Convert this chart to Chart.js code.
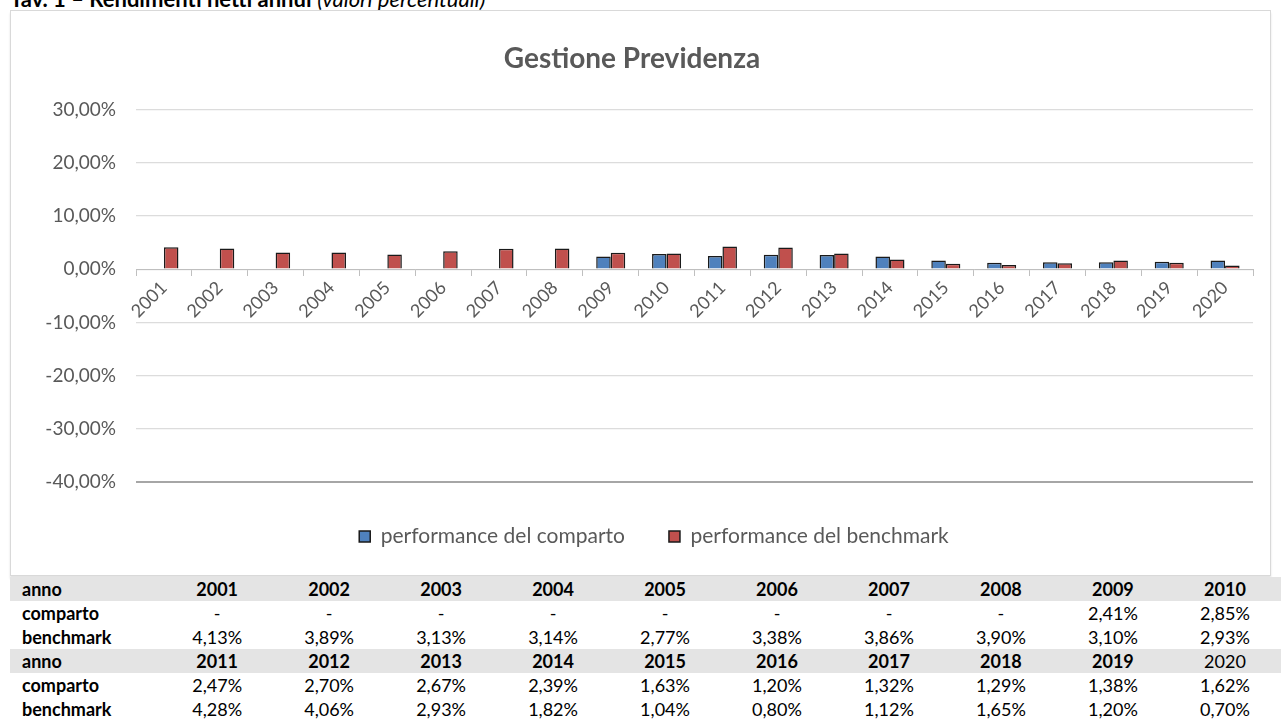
<!DOCTYPE html>
<html>
<head>
<meta charset="utf-8">
<script src="https://cdn.jsdelivr.net/npm/chart.js@4/dist/chart.umd.min.js"></script>
<style>
  body { margin: 0; width: 1281px; height: 727px; overflow: hidden; background: #fff; font-family: Lato, "Open Sans", sans-serif; position: relative; }
  #tav { position: absolute; left: 10px; top: -15px; font-size: 22px; color: #000; white-space: nowrap; }
  #tav b { font-weight: bold; }
  #tav i { font-style: italic; }
  #box { position: absolute; left: 10px; top: 10px; width: 1261px; height: 566px; border: 1px solid #d9d9d9; box-sizing: border-box; box-shadow: 0 3px 2px #e3e3e3; }
  #tab { position: absolute; left: 10px; top: 577px; border-collapse: collapse; font-size: 18px; color: #000; table-layout: fixed; }
  #tab td { height: 24px; padding: 0; text-align: center; white-space: nowrap; }
  #tab td.lab { text-align: left; padding-left: 12px; font-weight: bold; }
  #tab tr.head td { background: #e4e4e4; font-weight: bold; }
</style>
</head>
<body>
<div id="tav"><b>Tav. 1 – Rendimenti netti annui</b> <i>(valori percentuali)</i></div>
<div id="box"><canvas id="chart" width="1259" height="564"></canvas></div>
<table id="tab"></table>
<script>
const anni = ["2001", "2002", "2003", "2004", "2005", "2006", "2007", "2008", "2009", "2010",
  "2011", "2012", "2013", "2014", "2015", "2016", "2017", "2018", "2019", "2020"];
// valori percentuali, null = comparto non ancora attivo
const comparto = [null, null, null, null, null, null, null, null, 2.41, 2.85,
  2.47, 2.70, 2.67, 2.39, 1.63, 1.20, 1.32, 1.29, 1.38, 1.62];
const benchmark = [4.13, 3.89, 3.13, 3.14, 2.77, 3.38, 3.86, 3.90, 3.10, 2.93,
  4.28, 4.06, 2.93, 1.82, 1.04, 0.80, 1.12, 1.65, 1.20, 0.70];

const fmt = (v) => (v === null ? "-" : v.toFixed(2).replace(".", ",") + "%");

// table under the chart, two blocks of ten years
const tab = document.getElementById("tab");
const colgroup = document.createElement("colgroup");
colgroup.innerHTML = '<col style="width:152px">' + '<col style="width:113px">'.repeat(10);
tab.appendChild(colgroup);
for (let b = 0; b < 2; b++) {
  const idx = anni.slice(b * 10, b * 10 + 10).map((_, i) => b * 10 + i);
  const rows = [
    ["anno", idx.map((i) => anni[i]), "head"],
    ["comparto", idx.map((i) => fmt(comparto[i])), ""],
    ["benchmark", idx.map((i) => fmt(benchmark[i])), ""],
  ];
  rows.forEach(([lab, vals, cls]) => {
    const tr = document.createElement("tr");
    if (cls) tr.className = cls;
    let html = `<td class="lab">${lab}</td>`;
    vals.forEach((v) => {
      // 2020 is not bold in the source table
      const st = v === "2020" ? ' style="font-weight:normal"' : "";
      html += `<td${st}>${v}</td>`;
    });
    tr.innerHTML = html;
    tab.appendChild(tr);
  });
}

const grigio = "#595959";

new Chart(document.getElementById("chart"), {
  type: "bar",
  data: {
    labels: anni,
    datasets: [
      {
        label: "performance del comparto",
        data: comparto,
        backgroundColor: "#4f81bd",
        borderColor: "#1a1a1a",
        borderWidth: 1.5,
        categoryPercentage: 0.52,
        barPercentage: 1.0,
      },
      {
        label: "performance del benchmark",
        data: benchmark,
        backgroundColor: "#c0504d",
        borderColor: "#1a1a1a",
        borderWidth: 1.5,
        categoryPercentage: 0.52,
        barPercentage: 1.0,
      },
    ],
  },
  options: {
    responsive: false,
    animation: false,
    layout: { padding: { left: 0, right: 17, top: 0, bottom: 18 } },
    plugins: {
      tooltip: { enabled: false },
      title: {
        display: true,
        text: "Gestione Previdenza",
        color: grigio,
        font: { family: "Lato", size: 28, weight: "bold" },
        padding: { top: 31, bottom: 34 },
      },
      legend: {
        position: "bottom",
        labels: {
          color: grigio,
          font: { family: "Lato", size: 21 },
          boxWidth: 11,
          boxHeight: 11,
          padding: 44, // wide gap between the two items
        },
      },
    },
    scales: {
      x: {
        position: { y: 0 }, // axis crosses at 0 like in Excel
        grid: { drawOnChartArea: false, drawTicks: true, tickLength: 6, color: "#bfbfbf", offset: true },
        border: { display: true, color: "#bfbfbf" },
        ticks: {
          color: grigio,
          font: { family: "Lato", size: 18 },
          minRotation: 45,
          maxRotation: 45,
          autoSkip: false,
          padding: 2,
        },
      },
      y: {
        min: -40,
        max: 30,
        afterFit: (scale) => { scale.width = 125; },
        border: { display: false },
        grid: {
          drawTicks: false,
          color: (ctx) => (ctx.tick && ctx.tick.value === -40 ? "#a6a6a6" : "#dcdcdc"),
          lineWidth: (ctx) => (ctx.tick && ctx.tick.value === -40 ? 2 : 1.2),
        },
        ticks: {
          stepSize: 10,
          padding: 20,
          color: grigio,
          font: { family: "Lato", size: 19 },
          callback: (v) => v.toFixed(2).replace(".", ",") + "%",
        },
      },
    },
  },
  plugins: [
    {
      // the Excel legend sits a bit right of centre
      id: "legendShift",
      afterLayout: (chart) => {
        chart.legend.left += 22;
        chart.legend.right += 22;
      },
    },
  ],
});
</script>
</body>
</html>
